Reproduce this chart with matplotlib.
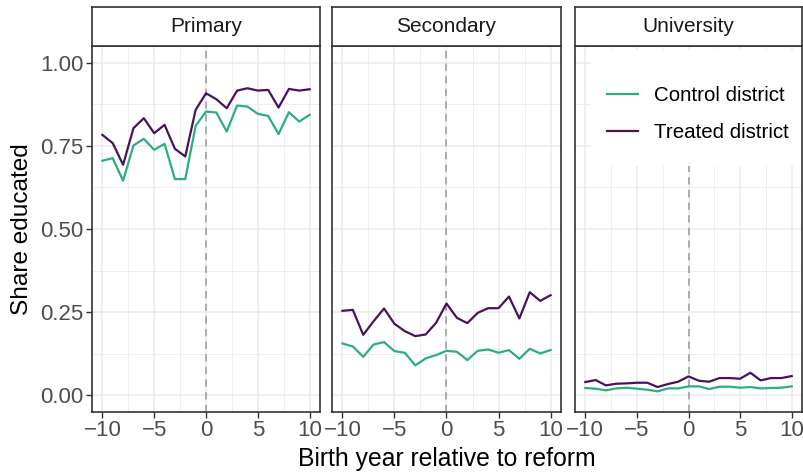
import numpy as np
import matplotlib
matplotlib.use("Agg")
from matplotlib import pyplot as plt
from matplotlib.patches import Rectangle

plt.rcParams['font.family'] = ['Liberation Sans', 'DejaVu Sans']

years = list(range(-10, 11))
panels = ["Primary", "Secondary", "University"]

# share educated by birth year, one list per panel and district type
control_primary = [0.705, 0.713, 0.645, 0.751, 0.771, 0.738, 0.756, 0.650, 0.650, 0.810, 0.853,
                   0.850, 0.793, 0.871, 0.868, 0.846, 0.840, 0.785, 0.851, 0.823, 0.843]
treated_primary = [0.783, 0.758, 0.693, 0.803, 0.833, 0.788, 0.813, 0.741, 0.718, 0.858, 0.908,
                   0.890, 0.863, 0.916, 0.923, 0.916, 0.918, 0.865, 0.921, 0.916, 0.920]
control_secondary = [0.156, 0.147, 0.116, 0.153, 0.160, 0.133, 0.128, 0.090, 0.111, 0.121, 0.134,
                     0.131, 0.106, 0.134, 0.138, 0.128, 0.136, 0.110, 0.140, 0.126, 0.136]
treated_secondary = [0.254, 0.257, 0.182, 0.223, 0.261, 0.215, 0.193, 0.178, 0.183, 0.218, 0.276,
                     0.233, 0.217, 0.248, 0.262, 0.262, 0.297, 0.231, 0.310, 0.284, 0.301]
control_university = [0.022, 0.020, 0.015, 0.021, 0.023, 0.020, 0.017, 0.012, 0.021, 0.021, 0.027,
                      0.027, 0.019, 0.026, 0.026, 0.023, 0.025, 0.021, 0.022, 0.023, 0.027]
treated_university = [0.040, 0.046, 0.030, 0.035, 0.036, 0.038, 0.038, 0.025, 0.034, 0.041, 0.057,
                       0.044, 0.041, 0.052, 0.052, 0.050, 0.068, 0.045, 0.052, 0.052, 0.058]

controls = [control_primary, control_secondary, control_university]
treateds = [treated_primary, treated_secondary, treated_university]

col_control = "#2BAE80"
col_treated = "#47135F"
grid_col = "#EBEBEB"
frame_col = "#333333"

W, H = 804, 474
fig = plt.figure(figsize=(W / 100, H / 100), dpi=100)

# panel boxes in pixels: left, right
lefts = [92, 332, 575]
rights = [320, 561, 802]
top, bottom, strip_top = 46, 412, 7

for i, name in enumerate(panels):
    l, r = lefts[i], rights[i]
    ax = fig.add_axes([l / W, 1 - bottom / H, (r - l) / W, (bottom - top) / H])
    ax.set_xlim(-11, 11)
    ax.set_ylim(-0.05, 1.05)
    ax.set_xticks([-10, -5, 0, 5, 10])
    ax.set_xticks([-7.5, -2.5, 2.5, 7.5], minor=True)
    ax.set_yticks([0, 0.25, 0.5, 0.75, 1.0])
    ax.set_yticks([0.125, 0.375, 0.625, 0.875], minor=True)
    ax.set_xticklabels(["\u221210", "\u22125", "0", "5", "10"])
    ax.grid(which="major", color=grid_col, linewidth=1.1)
    ax.grid(which="minor", color=grid_col, linewidth=0.55)
    ax.set_axisbelow(True)
    ax.tick_params(which="minor", length=0)
    ax.tick_params(which="major", length=4, width=1, color=frame_col,
                   labelsize=16, labelcolor="#4D4D4D", pad=2)
    if i == 0:
        ax.set_yticklabels(["0.00", "0.25", "0.50", "0.75", "1.00"])
        ax.set_ylabel("Share educated", fontsize=17.6, color="black", labelpad=5)
    else:
        ax.tick_params(axis="y", length=0, labelleft=False)
    for s in ax.spines.values():
        s.set_color(frame_col)
        s.set_linewidth(1.2)

    ax.axvline(0, color="#A6A6A6", linestyle=(0, (4, 3)), linewidth=1.3, zorder=1)
    ax.plot(years, controls[i], color=col_control, linewidth=1.6, label="Control district", zorder=3)
    ax.plot(years, treateds[i], color=col_treated, linewidth=1.6, label="Treated district", zorder=3)

    if i == 2:
        # white key background sitting over the grid
        ax.add_patch(Rectangle((591 / W, 1 - 166 / H), (802 - 591) / W, (166 - 50) / H,
                               transform=fig.transFigure, facecolor="white",
                               edgecolor="none", zorder=2))
        ax.legend(loc="upper left", bbox_to_anchor=(607 / W, 1 - 86 / H),
                  bbox_transform=fig.transFigure, frameon=False,
                  fontsize=14.8, handlelength=1.5, handletextpad=0.8,
                  labelspacing=0.87, borderpad=0.0, borderaxespad=0.0)

    # facet strip above each panel
    sax = fig.add_axes([l / W, 1 - top / H, (r - l) / W, (top - strip_top) / H])
    sax.set_xticks([])
    sax.set_yticks([])
    for s in sax.spines.values():
        s.set_color(frame_col)
        s.set_linewidth(1.2)
    sax.text(0.5, 0.5, name, ha="center", va="center", fontsize=15, color="#1A1A1A",
             transform=sax.transAxes)

fig.text(447 / W, 1 - 459 / H, "Birth year relative to reform", ha="center", va="center",
         fontsize=17.8, color="black")

fig.savefig("out.png", dpi=100)
